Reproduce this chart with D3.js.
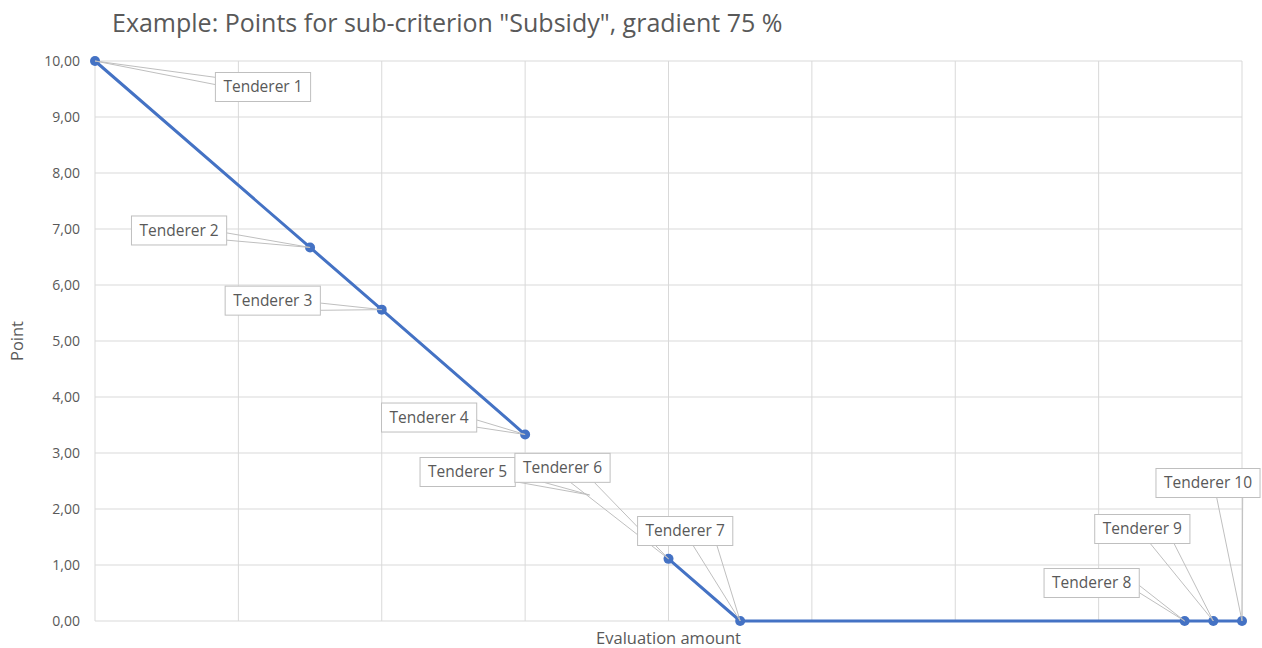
<!DOCTYPE html>
<html>
<head>
<meta charset="utf-8">
<script src="https://cdn.jsdelivr.net/npm/d3@7"></script>
<style>
  body { margin: 0; background: #fff; }
  svg { font-family: "Open Sans", Lato, sans-serif; }
  .grid line { stroke: #d9d9d9; stroke-width: 1; }
  .tick-label { fill: #595959; font-size: 14px; }
  .axis-title { fill: #595959; font-size: 16.5px; }
  .title { fill: #595959; font-size: 25px; }
  .leader { stroke: #bfbfbf; stroke-width: 1; fill: none; }
  .lbl rect { fill: #fff; stroke: #bfbfbf; stroke-width: 1; }
  .lbl text { fill: #595959; font-size: 15.5px; }
</style>
</head>
<body>
<svg id="chart" width="1262" height="648"></svg>
<script>
// data
var tenderers = ['Tenderer 1', 'Tenderer 2', 'Tenderer 3', 'Tenderer 4', 'Tenderer 5',
                 'Tenderer 6', 'Tenderer 7', 'Tenderer 8', 'Tenderer 9', 'Tenderer 10'];
var amounts = [0, 1.5, 2, 3, 3.45, 4, 4.5, 7.6, 7.8, 8];
var points = [10, 6.67, 5.56, 3.33, 2.25, 1.11, 0, 0, 0, 0];
// Tenderer 5 has no visible marker / line in the original
var visible = [true, true, true, true, false, true, true, true, true, true];
var yTicks = [0, 1, 2, 3, 4, 5, 6, 7, 8, 9, 10];
var xGrid = [0, 1, 2, 3, 4, 5, 6, 7, 8];

// where each callout box sits, relative to its point (px)
var labelOffsets = [[168, 26], [-131, -17], [-109, -9], [-96, -17], [-122, -23],
                    [-106, -91], [-55, -90], [-93, -38], [-71, -92], [-34, -138]];

var svg = d3.select('#chart');
var pl = 95, pr = 1242, pt = 61, pb = 621;

var x = d3.scaleLinear().domain([0, 8]).range([pl, pr]);
var y = d3.scaleLinear().domain([0, 10]).range([pb, pt]);

var fmt = function(v) { return d3.format('.2f')(v).replace('.', ','); };

// gridlines
var grid = svg.append('g').attr('class', 'grid');
grid.selectAll('.h').data(yTicks).enter().append('line')
    .attr('x1', pl).attr('x2', pr)
    .attr('y1', function(d) { return y(d); }).attr('y2', function(d) { return y(d); });
grid.selectAll('.v').data(xGrid).enter().append('line')
    .attr('y1', pt).attr('y2', pb)
    .attr('x1', function(d) { return x(d); }).attr('x2', function(d) { return x(d); });

// y tick labels
svg.selectAll('.tick-label').data(yTicks).enter().append('text')
    .attr('class', 'tick-label')
    .attr('x', 80).attr('y', function(d) { return y(d); })
    .attr('dy', '0.35em').attr('text-anchor', 'end')
    .text(fmt);

// titles
svg.append('text').attr('class', 'title').attr('x', 112).attr('y', 32)
    .text('Example: Points for sub-criterion "Subsidy", gradient 75 %');
svg.append('text').attr('class', 'axis-title')
    .attr('transform', 'translate(23,' + ((pt + pb) / 2) + ') rotate(-90)')
    .attr('text-anchor', 'middle').text('Point');
svg.append('text').attr('class', 'axis-title')
    .attr('x', (pl + pr) / 2).attr('y', 644).attr('text-anchor', 'middle')
    .text('Evaluation amount');

var data = tenderers.map(function(name, i) {
    return {name: name, a: amounts[i], p: points[i], show: visible[i], off: labelOffsets[i]};
});

// series line
var line = d3.line()
    .defined(function(d) { return d.show; })
    .x(function(d) { return x(d.a); })
    .y(function(d) { return y(d.p); });
svg.append('path').datum(data)
    .attr('d', line)
    .attr('fill', 'none').attr('stroke', '#4472c4').attr('stroke-width', 3)
    .attr('stroke-linejoin', 'round');

svg.selectAll('.marker').data(data.filter(function(d) { return d.show; })).enter()
    .append('circle').attr('class', 'marker')
    .attr('cx', function(d) { return x(d.a); })
    .attr('cy', function(d) { return y(d.p); })
    .attr('r', 5).attr('fill', '#4472c4');

// callouts
var leaders = svg.append('g');
var boxes = svg.append('g');

data.forEach(function(d) {
    var px = x(d.a), py = y(d.p);
    var cx = px + d.off[0], cy = py + d.off[1];
    var g = boxes.append('g').attr('class', 'lbl');
    var rect = g.append('rect');
    var t = g.append('text').attr('x', cx).attr('y', cy).attr('dy', '0.35em')
        .attr('text-anchor', 'middle').text(d.name);
    var w = t.node().getComputedTextLength() + 16, h = 29;
    var x0 = cx - w / 2, y0 = cy - h / 2;
    rect.attr('x', x0).attr('y', y0).attr('width', w).attr('height', h);

    // pick the box edge facing the point
    var dx = px < x0 ? px - x0 : (px > x0 + w ? px - x0 - w : 0);
    var dy = py < y0 ? py - y0 : (py > y0 + h ? py - y0 - h : 0);
    var a, b;
    if (Math.abs(dx) > Math.abs(dy)) {
        var ex = dx < 0 ? x0 : x0 + w, s = dy < 0 ? -1 : 1;
        a = [ex, cy + s * h / 12];
        b = [ex, cy + s * h / 3];
    } else {
        var ey = dy < 0 ? y0 : y0 + h, s2 = dx < 0 ? -1 : 1;
        a = [cx + s2 * w / 12, ey];
        b = [cx + s2 * w / 3, ey];
    }
    leaders.append('path').attr('class', 'leader')
        .attr('d', 'M' + a + 'L' + [px, py] + 'L' + b);
});
</script>
</body>
</html>
